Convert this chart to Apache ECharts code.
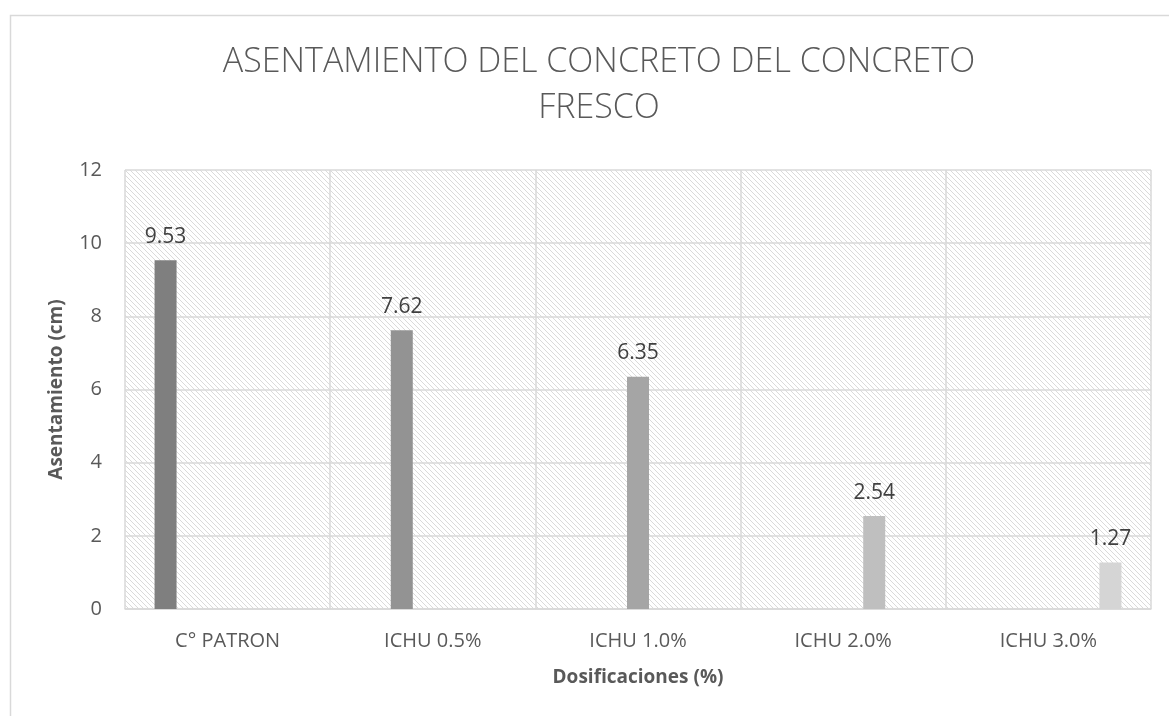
<!DOCTYPE html>
<html>
<head>
<meta charset="utf-8">
<script src="https://cdn.jsdelivr.net/npm/echarts@6/dist/echarts.min.js"></script>
<style>
  html, body { margin: 0; padding: 0; background: #fff; }
  #chart { width: 1169px; height: 716px; }
</style>
</head>
<body>
<div id="chart"></div>
<script>
const categories = ['C° PATRON', 'ICHU 0.5%', 'ICHU 1.0%', 'ICHU 2.0%', 'ICHU 3.0%']
const values = [9.53, 7.62, 6.35, 2.54, 1.27]
const barColors = ['#7f7f7f', '#939393', '#a5a5a5', '#bfbfbf', '#d5d5d5']
const yTicks = { min: 0, max: 12, interval: 2 }

// hatch pattern for plot background (diagonal "\\" lines)
function makeHatch() {
  const s = 5
  const c = document.createElement('canvas')
  c.width = s
  c.height = s
  const ctx = c.getContext('2d')
  ctx.fillStyle = '#ffffff'
  ctx.fillRect(0, 0, s, s)
  ctx.strokeStyle = '#dadada'
  ctx.lineWidth = 1
  ;[-s, 0, s].forEach(o => {
    ctx.beginPath()
    ctx.moveTo(o, 0)
    ctx.lineTo(o + s, s)
    ctx.stroke()
  })
  return c
}

const chart = echarts.init(document.getElementById('chart'))

// each category is its own series, so the bars sit in staggered slots
const series = categories.map((name, i) => ({
  name: name,
  type: 'bar',
  barWidth: 22,
  barGap: '41%',
  data: values.map((v, j) => (j === i ? v : null)),
  itemStyle: { color: barColors[i] },
  label: {
    show: true,
    position: 'top',
    distance: 13,
    color: '#404040',
    fontSize: 21,
    fontFamily: 'Open Sans'
  }
}))

chart.setOption({
  animation: false,
  textStyle: { fontFamily: 'Open Sans' },
  title: {
    text: 'ASENTAMIENTO DEL CONCRETO DEL CONCRETO\nFRESCO',
    left: 594,
    textAlign: 'center',
    top: 34,
    textStyle: {
      fontFamily: 'Open Sans',
      fontWeight: 300,
      fontSize: 34,
      lineHeight: 46,
      color: '#595959'
    }
  },
  graphic: [
    {
      type: 'rect',
      left: 8,
      top: 13,
      shape: { width: 1300, height: 800 },
      style: { fill: 'none', stroke: '#d9d9d9', lineWidth: 1.5 },
      z: -1
    }
  ],
  grid: {
    left: 125,
    right: 18,
    top: 170,
    bottom: 107,
    show: true,
    borderWidth: 0,
    backgroundColor: { image: makeHatch(), repeat: 'repeat' }
  },
  xAxis: {
    type: 'category',
    data: categories,
    name: 'Dosificaciones (%)',
    nameLocation: 'middle',
    nameGap: 59,
    nameTextStyle: { fontWeight: 'bold', fontSize: 19, color: '#595959' },
    axisTick: { show: false },
    axisLine: { lineStyle: { color: '#d9d9d9', width: 1.5 } },
    axisLabel: { color: '#595959', fontSize: 20, margin: 22 },
    splitLine: { show: true, lineStyle: { color: '#d9d9d9', width: 1.5 } }
  },
  yAxis: {
    type: 'value',
    min: yTicks.min,
    max: yTicks.max,
    interval: yTicks.interval,
    name: 'Asentamiento (cm)',
    nameLocation: 'middle',
    nameGap: 59,
    nameTextStyle: { fontWeight: 'bold', fontSize: 19, color: '#595959' },
    axisLine: { show: false },
    axisTick: { show: false },
    axisLabel: { color: '#595959', fontSize: 20, margin: 23 },
    splitLine: { lineStyle: { color: '#d9d9d9', width: 1.5 } }
  },
  series: series
})
</script>
</body>
</html>
